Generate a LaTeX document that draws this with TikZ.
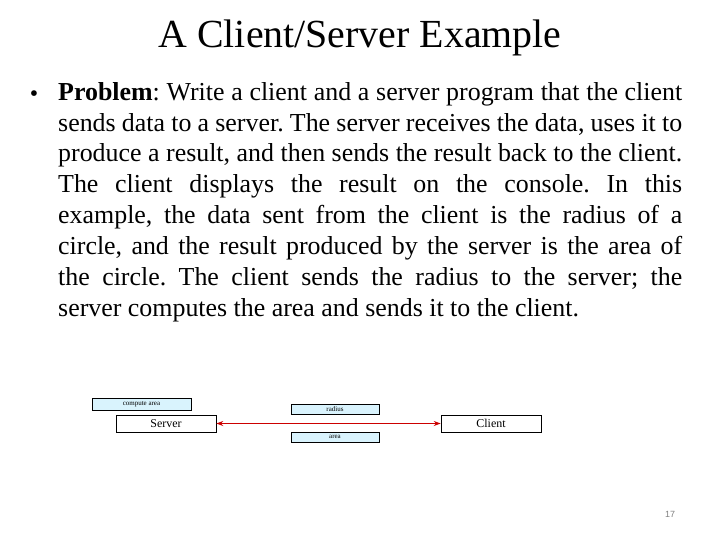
\documentclass[tikz,border=0pt]{standalone}
\usepackage{fontspec}
\setmainfont{Liberation Serif}
\newfontfamily\pnfont{Liberation Sans}
\usetikzlibrary{arrows.meta}
\begin{document}
\begin{tikzpicture}[x=1bp,y=-1bp,
  cyanbox/.style={draw=black,fill=cyan!15,line width=0.6pt,inner sep=0pt,font=\fontsize{7}{8}\selectfont},
  whitebox/.style={draw=black,fill=white,line width=0.6pt,inner sep=0pt,font=\fontsize{12}{12}\selectfont},
  link/.style={draw=red!80!black,line width=0.8pt,{Stealth[length=7pt,width=5pt]}-{Stealth[length=7pt,width=5pt]}}]
\useasboundingbox (0,0) rectangle (720,540);
\node[font=\fontsize{40}{44}\selectfont] (title) at (360,38) {A Client/Server Example};
\node[font=\fontsize{24}{31}\selectfont] (bullet) at (34,96) {\textbullet};
\node[anchor=north west,inner sep=0pt,text width=624bp,align=justify,
  font=\fontsize{26}{31}\selectfont\frenchspacing] (body) at (58,82)
 {\textbf{Problem}: Write a client and a server program that the client\linebreak
 sends data to a server. The server receives the data, uses it to\linebreak
 produce a result, and then sends the result back to the client.\linebreak
 The client displays the result on the console. In this\linebreak
 example, the data sent from the client is the radius of a\linebreak
 circle, and the result produced by the server is the area of\linebreak
 the circle. The client sends the radius to the server; the\linebreak
 server computes the area and sends it to the client.};
\node[cyanbox,minimum width=99bp,minimum height=12bp] (compute) at (141.5,404) {compute area};
\node[whitebox,minimum width=100bp,minimum height=17bp] (server) at (166,423.5) {Server};
\node[cyanbox,minimum width=88bp,minimum height=10bp] (radius) at (335,409) {radius};
\node[cyanbox,minimum width=88bp,minimum height=10bp] (area) at (335,437) {area};
\node[whitebox,minimum width=100bp,minimum height=17bp] (client) at (491,423.5) {Client};
\draw[link] (server) -- (client);
\node[font=\pnfont\fontsize{9}{10}\selectfont,text=gray] (pn) at (670,514) {17};
\end{tikzpicture}
\end{document}
